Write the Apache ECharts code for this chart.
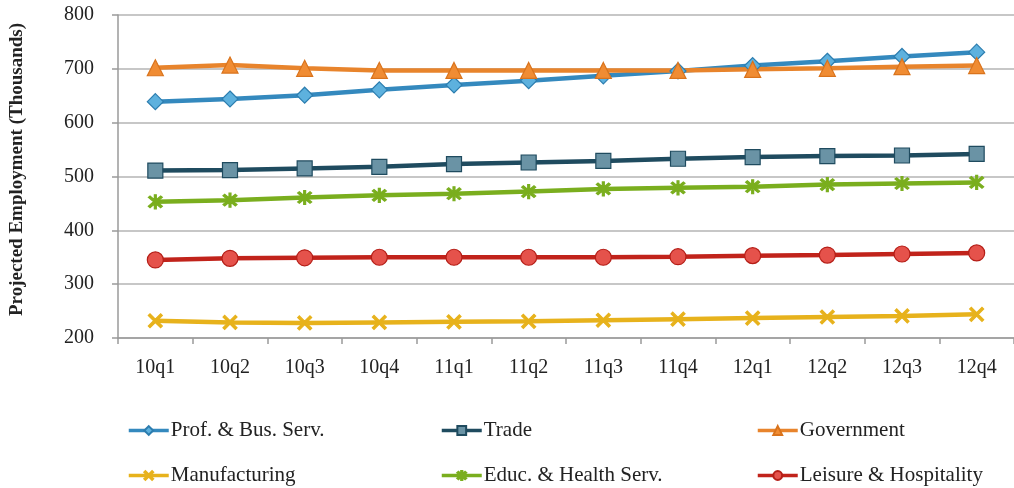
<!DOCTYPE html>
<html>
<head>
<meta charset="utf-8">
<script src="https://cdn.jsdelivr.net/npm/echarts@6/dist/echarts.min.js"></script>
<style>
  html, body { margin: 0; padding: 0; background: #ffffff; }
  #chart { width: 1014px; height: 488px; }
</style>
</head>
<body>
<div id="chart"></div>
<script>
// Quarterly projected employment by sector (thousands)
const quarters = ['10q1','10q2','10q3','10q4','11q1','11q2','11q3','11q4','12q1','12q2','12q3','12q4'];
const profBus     = [639, 644, 651, 661, 670, 678, 687, 696, 706, 714, 723, 731];
const trade       = [511, 512, 515, 518, 523, 526, 529, 533, 536, 538, 539, 542];
const government  = [702, 707, 701, 697, 697, 697, 697, 697, 699, 701, 704, 706];
const manufacture = [232, 229, 228, 229, 230, 231, 233, 235, 237, 239, 241, 244];
const educHealth  = [453, 456, 461, 465, 468, 472, 477, 479, 481, 485, 487, 489];
const leisure     = [345, 348, 349, 350, 350, 350, 350, 351, 353, 354, 356, 358];
const yTicks = { min: 200, max: 800, step: 100 };

const FONT = '"Liberation Serif", "DejaVu Serif", serif';

// filled glyphs for the cross-style markers
const xMark = 'path://M0,1.2L1.2,0L5,3.8L8.8,0L10,1.2L6.2,5L10,8.8L8.8,10L5,6.2L1.2,10L0,8.8L3.8,5Z';
const starMark = 'path://M0,1.2L1.2,0L5,3.8L8.8,0L10,1.2L6.2,5L10,8.8L8.8,10L5,6.2L1.2,10L0,8.8L3.8,5Z' +
                 'M4.3,-1L5.7,-1L5.7,11L4.3,11Z';

function seriesDef(name, data, lineColor, symbol, size, fill, border) {
  return {
    name: name,
    type: 'line',
    data: data,
    symbol: symbol,
    symbolSize: size,
    showAllSymbol: true,
    lineStyle: { color: lineColor, width: 4.5 },
    itemStyle: { color: fill, borderColor: border, borderWidth: 1.2 },
    emphasis: { disabled: true },
    z: 3
  };
}

const series = [
  seriesDef('Prof. & Bus. Serv.', profBus, '#3489BE', 'diamond', 16, '#5DB1DE', '#2C7DAF'),
  seriesDef('Trade', trade, '#1F4B5F', 'rect', 15, '#6A93A5', '#1F4B5F'),
  seriesDef('Government', government, '#E8842C', 'triangle', 16, '#F08C33', '#D9731C'),
  seriesDef('Manufacturing', manufacture, '#E7B21C', xMark, 14, '#E7B21C', '#E7B21C'),
  seriesDef('Educ. & Health Serv.', educHealth, '#7AAE1E', starMark, 14, '#7AAE1E', '#7AAE1E'),
  seriesDef('Leisure & Hospitality', leisure, '#C1231B', 'circle', 16, '#E5524B', '#B51E17')
];

// one legend per entry so the six items sit in a fixed 3x2 layout
const legendSlots = [
  { left: 127, top: 420 }, { left: 440, top: 420 }, { left: 756, top: 420 },
  { left: 127, top: 465 }, { left: 440, top: 465 }, { left: 756, top: 465 }
];
const legends = series.map((s, i) => ({
  data: [s.name],
  left: legendSlots[i].left,
  top: legendSlots[i].top,
  padding: 0,
  itemWidth: 40,
  itemHeight: 11,
  itemGap: 0,
  selectedMode: false,
  lineStyle: { width: 3.5 },
  textStyle: { fontFamily: FONT, fontSize: 21, color: '#222', padding: [0, 0, 0, -3] }
}));

const chart = echarts.init(document.getElementById('chart'), null, { renderer: 'canvas' });
chart.setOption({
  animation: false,
  backgroundColor: '#ffffff',
  legend: legends,
  grid: { left: 116, top: 15, width: 906, height: 323 },
  xAxis: {
    type: 'category',
    data: quarters,
    boundaryGap: true,
    axisLine: { lineStyle: { color: '#9a9a9a', width: 1.5 } },
    axisTick: { show: true, length: 6, lineStyle: { color: '#9a9a9a', width: 1.5 } },
    axisLabel: { fontFamily: FONT, fontSize: 20, color: '#222', margin: 20 }
  },
  yAxis: {
    type: 'value',
    min: yTicks.min,
    max: yTicks.max,
    interval: yTicks.step,
    name: 'Projected Employment (Thousands)',
    nameLocation: 'middle',
    nameGap: 91,
    nameRotate: 90,
    nameTextStyle: { fontFamily: FONT, fontSize: 19, fontWeight: 'bold', color: '#222', padding: [0, 0, 0, 14] },
    axisLine: { show: true, lineStyle: { color: '#9a9a9a', width: 1.5 } },
    axisTick: { show: true, length: 6, lineStyle: { color: '#9a9a9a', width: 1.5 } },
    axisLabel: { fontFamily: FONT, fontSize: 20, color: '#222', margin: 24 },
    splitLine: { lineStyle: { color: '#b4b4b4', width: 1.5 } }
  },
  series: series
});
</script>
</body>
</html>
